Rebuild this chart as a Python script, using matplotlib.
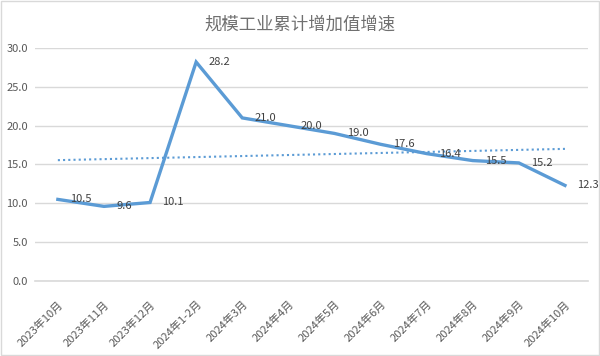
import numpy as np
import matplotlib.pyplot as plt
from matplotlib.patches import Rectangle

plt.rcParams['font.family'] = ['Noto Sans CJK SC', 'DejaVu Sans']

months = ['2023年10月', '2023年11月', '2023年12月', '2024年1-2月', '2024年3月', '2024年4月',
          '2024年5月', '2024年6月', '2024年7月', '2024年8月', '2024年9月', '2024年10月']
growth = [10.5, 9.6, 10.1, 28.2, 21.0, 20.0, 19.0, 17.6, 16.4, 15.5, 15.2, 12.3]

line_color = '#5B9BD5'
text_color = '#595959'

fig = plt.figure(figsize=(6, 3.56), dpi=100)
ax = fig.add_axes([0.058, 0.211, 0.922, 0.654])

x = np.arange(len(months))
ax.plot(x, growth, color=line_color, linewidth=2.4, solid_joinstyle='miter', zorder=3)

# linear trend line (like excel's trendline)
slope, intercept = np.polyfit(x, growth, 1)
ax.plot(x, slope * x + intercept, color=line_color, linewidth=1.5, linestyle=(0, (1, 1.5)), zorder=2)

for xi, v in zip(x, growth):
    ax.annotate(f'{v:.1f}', (xi, v), xytext=(9, 0), textcoords='offset points',
                ha='left', va='center', fontsize=8, color='#404040', zorder=4)

ax.set_xlim(-0.5, len(months) - 0.5)
ax.set_ylim(0, 30)
ax.set_yticks(np.arange(0, 30.1, 5))
ax.set_yticklabels([f'{t:.1f}' for t in np.arange(0, 30.1, 5)])
ax.set_xticks(x)
ax.set_xticklabels(months, rotation=45, ha='right', va='top', rotation_mode='anchor')
ax.tick_params(axis='both', length=0, colors=text_color, labelsize=8)
ax.tick_params(axis='x', pad=13)
ax.tick_params(axis='y', pad=5)
ax.grid(axis='y', color='#D9D9D9', linewidth=1)
ax.axhline(0, color='#D9D9D9', linewidth=1.2, clip_on=False, zorder=1)
ax.set_axisbelow(True)
for s in ax.spines.values():
    s.set_visible(False)

fig.text(0.5, 0.932, '规模工业累计增加值增速', ha='center', va='center', fontsize=12.5, color='#707070')

fig.patches.append(Rectangle((0.002, 0.003), 0.996, 0.994, transform=fig.transFigure,
                             fill=False, edgecolor='#D9D9D9', linewidth=1))

fig.savefig('out.png', dpi=100)
